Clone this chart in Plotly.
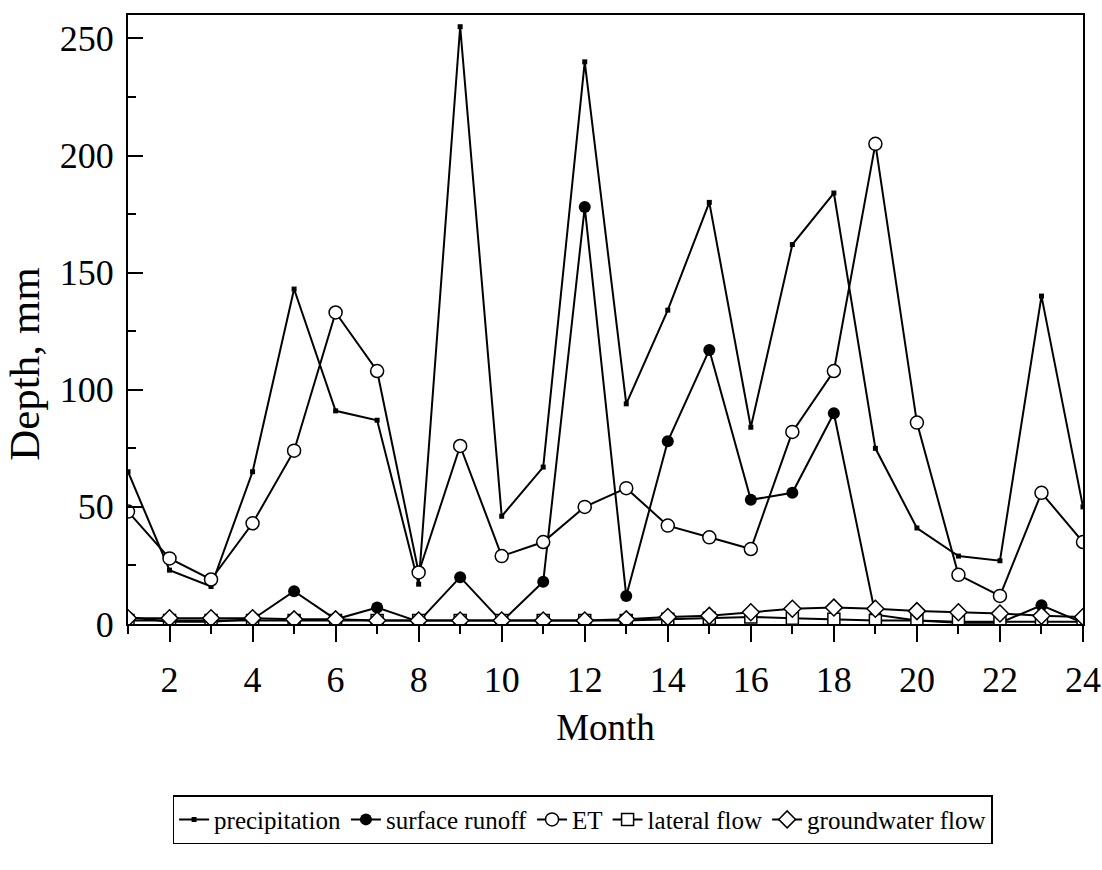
import plotly.graph_objects as go

months = list(range(1, 25))
precipitation = [65, 23, 16, 65, 143, 91, 87, 17, 255, 46, 67, 240,
                 94, 134, 180, 84, 162, 184, 75, 41, 29, 27, 140, 50]
surface_runoff = [3, 1, 1, 2, 14, 2, 7, 1, 20, 1, 18, 178,
                  12, 78, 117, 53, 56, 90, 4, 1.5, 0.5, 0.5, 8, 0.5]
et = [48, 28, 19, 43, 74, 133, 108, 22, 76, 29, 35, 50,
      58, 42, 37, 32, 82, 108, 205, 86, 21, 12, 56, 35]
lateral_flow = [1.5, 1.5, 1.5, 1.5, 1.5, 1.5, 1.5, 1.5, 1.5, 1.5, 1.5, 1.5,
                1.5, 2, 2.5, 3, 2.5, 2, 1.5, 1.5, 1, 1, 1, 1]
groundwater_flow = [2.5, 2.5, 2.5, 2.5, 2, 2, 1.5, 1.5, 1.5, 1.5, 1.5, 1.5,
                    2, 3, 3.5, 5, 6.5, 7, 6.5, 5.5, 5, 4.5, 3.5, 3]

x_tickvals = list(range(2, 25, 2))
y_tickvals = [0, 50, 100, 150, 200, 250]

FONT = "Liberation Serif"
line = dict(color="black", width=2)

fig = go.Figure()
fig.add_trace(go.Scatter(x=months, y=precipitation, name="precipitation",
                         mode="lines+markers", line=line,
                         marker=dict(symbol="square", size=5, color="black")))
fig.add_trace(go.Scatter(x=months, y=surface_runoff, name="surface runoff",
                         mode="lines+markers", line=line,
                         marker=dict(symbol="circle", size=12, color="black")))
fig.add_trace(go.Scatter(x=months, y=et, name="ET",
                         mode="lines+markers", line=line,
                         marker=dict(symbol="circle", size=13, color="white",
                                     line=dict(color="black", width=1.5))))
fig.add_trace(go.Scatter(x=months, y=lateral_flow, name="lateral flow",
                         mode="lines+markers", line=line,
                         marker=dict(symbol="square", size=12, color="white",
                                     line=dict(color="black", width=1.5))))
fig.add_trace(go.Scatter(x=months, y=groundwater_flow, name="groundwater flow",
                         mode="lines+markers", line=line,
                         marker=dict(symbol="diamond", size=13, color="white",
                                     line=dict(color="black", width=1.5))))

fig.update_layout(
    width=1102, height=870,
    margin=dict(l=128, r=19, t=15, b=246),
    plot_bgcolor="white", paper_bgcolor="white",
    font=dict(family=FONT, color="black", size=36),
    showlegend=True,
    legend=dict(orientation="h", x=0.476, xanchor="center", y=-0.281, yanchor="top",
                bordercolor="black", borderwidth=1.5, bgcolor="white",
                font=dict(family=FONT, size=25)),
    xaxis=dict(range=[1, 24], tickvals=x_tickvals, ticks="outside", ticklen=16,
               tickwidth=2, tickcolor="black",
               minor=dict(dtick=1, tick0=1, ticks="outside", ticklen=8,
                          tickwidth=2, tickcolor="black"),
               showline=True, linecolor="black", linewidth=2, mirror=True,
               showgrid=False, zeroline=False, automargin=False,
               ticklabelstandoff=7, ticklabeloverflow="allow",
               tickfont=dict(size=36),
               title=dict(text="Month", font=dict(size=37), standoff=15)),
    yaxis=dict(range=[0, 260], tickvals=y_tickvals, ticks="inside", ticklen=15,
               tickwidth=2, tickcolor="black",
               minor=dict(dtick=25, tick0=0, ticks="inside", ticklen=8,
                          tickwidth=2, tickcolor="black"),
               showline=True, linecolor="black", linewidth=2, mirror=True,
               showgrid=False, zeroline=False, automargin=False,
               ticklabelstandoff=5, ticklabeloverflow="allow",
               tickfont=dict(size=36)),
    annotations=[dict(text="Depth, mm", textangle=-90, xref="paper", yref="paper",
                      x=-0.108, y=0.427, xanchor="center", yanchor="middle",
                      showarrow=False, font=dict(family=FONT, size=43))],
)

fig.write_html("out.html",
               config={"displayModeBar": False},
               post_script="document.body.style.margin='0';"
                           "document.body.style.overflow='hidden';")
